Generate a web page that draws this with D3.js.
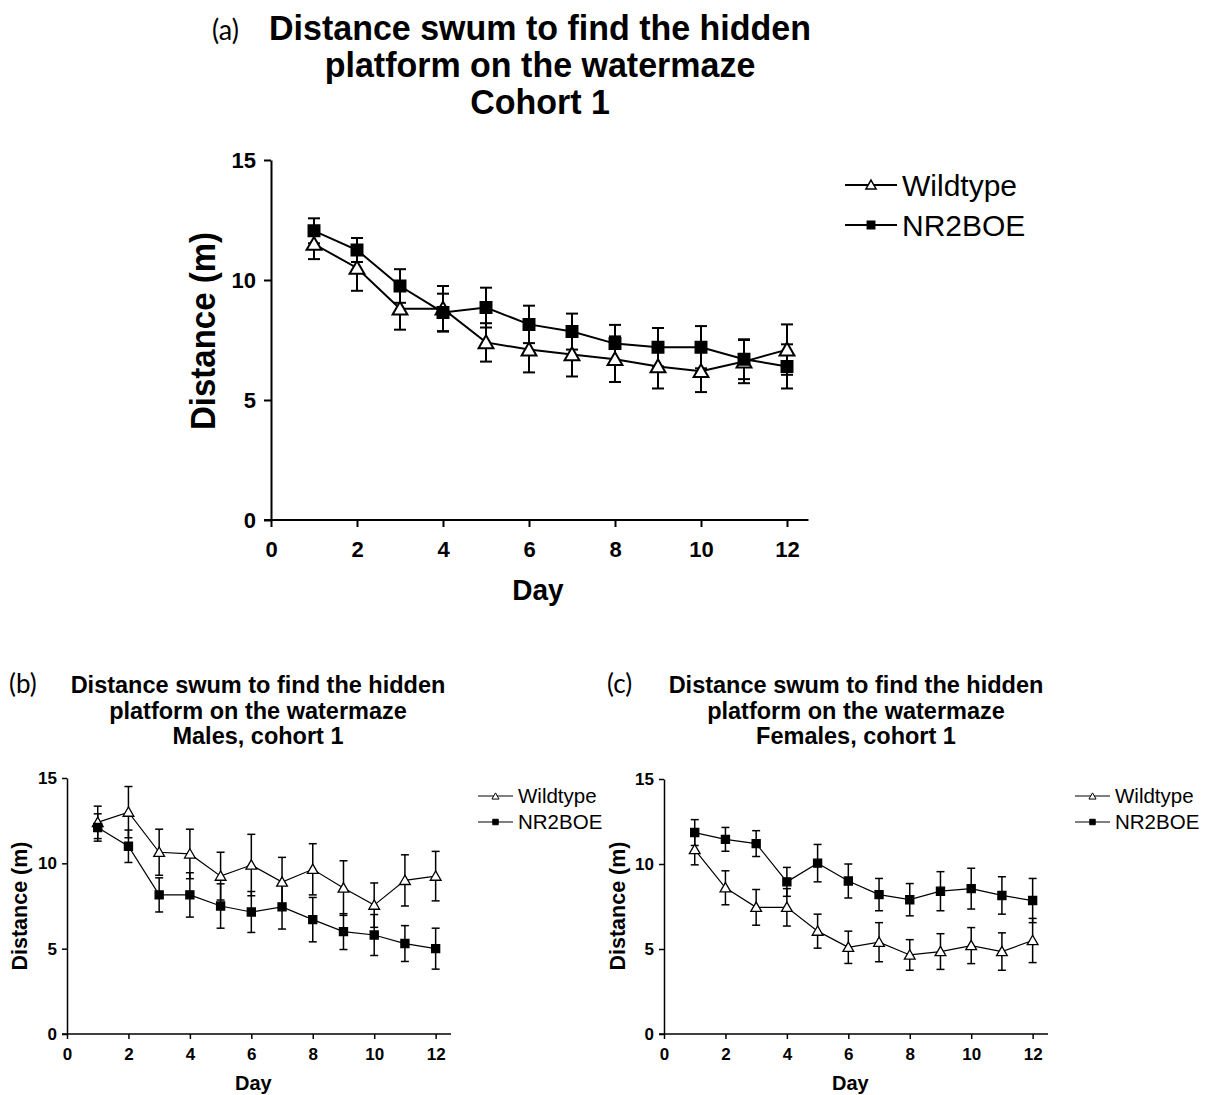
<!DOCTYPE html>
<html><head><meta charset="utf-8">
<script src="https://cdn.jsdelivr.net/npm/d3@7"></script>
<style>body{margin:0;background:#fff}svg{display:block}
svg text{font-family:"Liberation Sans", Arimo, Arial, Helvetica, sans-serif}
svg text.tag{font-family:Lato, "Open Sans", sans-serif}</style>
</head><body>
<script>
const days = [1,2,3,4,5,6,7,8,9,10,11,12];
const xTicks = [0,2,4,6,8,10,12];
const yTicks = [0,5,10,15];
const seriesNames = ["Wildtype","NR2BOE"];

const aWildtype = [11.5,10.5,8.8,8.8,7.4,7.1,6.9,6.7,6.4,6.2,6.6,7.1];
const aWildtypeSem = [0.63,0.95,0.87,0.95,0.8,0.95,0.92,0.95,0.92,0.87,0.9,1.05];
const aNR2BOE = [12.05,11.25,9.75,8.65,8.85,8.15,7.85,7.35,7.2,7.2,6.7,6.4];
const aNR2BOESem = [0.52,0.5,0.7,0.78,0.83,0.78,0.75,0.78,0.8,0.88,0.83,0.92];

const bWildtype = [12.4,13.0,10.65,10.55,9.25,9.9,8.9,9.65,8.55,7.55,9.0,9.25];
const bWildtypeSem = [0.95,1.5,1.35,1.45,1.4,1.8,1.45,1.5,1.6,1.3,1.5,1.45];
const bNR2BOE = [12.1,11.0,8.15,8.15,7.5,7.15,7.45,6.7,6.0,5.8,5.3,5.0];
const bNR2BOESem = [0.8,0.95,1.0,1.3,1.3,1.2,1.3,1.3,1.05,1.2,1.05,1.2];

const cWildtype = [10.85,8.6,7.45,7.45,6.05,5.1,5.4,4.65,4.85,5.2,4.85,5.5];
const cWildtypeSem = [0.9,1.0,1.05,1.1,1.0,0.95,1.15,0.9,1.05,1.06,1.1,1.3];
const cNR2BOE = [11.85,11.45,11.2,8.95,10.05,9.0,8.2,7.9,8.4,8.55,8.15,7.85];
const cNR2BOESem = [0.76,0.7,0.76,0.85,1.1,1.0,0.95,0.95,1.15,1.2,1.1,1.3];

const titleA = ["Distance swum to find the hidden","platform on the watermaze","Cohort 1"];
const titleB = ["Distance swum to find the hidden","platform on the watermaze","Males, cohort 1"];
const titleC = ["Distance swum to find the hidden","platform on the watermaze","Females, cohort 1"];

const svg = d3.select("body").append("svg").attr("width",1207).attr("height",1095);

function panel(o){
  const g = svg.append("g");
  const x = d3.scaleLinear().domain([0,12.5]).range([o.left, o.left+o.w]);
  const y = d3.scaleLinear().domain([0,15]).range([o.bottom, o.top]);
  const sy = o.stretch;

  g.append("text").attr("class","tag").attr("transform",`translate(${o.tagX},${o.titleY}) scale(1,${sy})`)
    .attr("font-size",o.tagSize).text(o.tag);
  o.title.forEach((t,i)=>g.append("text")
    .attr("transform",`translate(${o.titleCx},${o.titleY+i*o.titleLh}) scale(1,${sy})`)
    .attr("text-anchor","middle").attr("font-weight","bold").attr("font-size",o.titleSize).text(t));

  const xa = g.append("g").attr("transform",`translate(0,${o.bottom})`)
    .call(d3.axisBottom(x).tickValues(xTicks).tickSize(o.tick).tickSizeOuter(0).tickPadding(o.xpad));
  const ya = g.append("g").attr("transform",`translate(${o.left},0)`)
    .call(d3.axisLeft(y).tickValues(yTicks).tickSize(o.tick).tickSizeOuter(0).tickPadding(o.ypad));
  [xa,ya].forEach(a=>{
    a.attr("font-family",null);
    a.selectAll("path,line").attr("stroke","#000").attr("stroke-width",o.axW);
    a.selectAll("text").attr("font-size",o.tickSize).attr("font-weight","bold").attr("fill","#000");
  });
  xa.select(".domain").attr("d",`M${o.left-o.tick},0H${o.left+o.w}`);

  g.append("text").attr("transform",`translate(${x(6)+o.xlabDx},${o.xlabY}) scale(1,${sy})`).attr("text-anchor","middle")
    .attr("font-weight","bold").attr("font-size",o.xlabSize).text("Day");
  g.append("text").attr("transform",`translate(${o.ylabX},${o.ylabCy}) rotate(-90) scale(1,${sy})`)
    .attr("text-anchor","middle").attr("font-weight","bold").attr("font-size",o.ylabSize).text("Distance (m)");

  const series = [
    {name:seriesNames[0], v:o.wt, e:o.wtSem, sym:d3.symbolTriangle, fill:"#fff", size:o.triSize},
    {name:seriesNames[1], v:o.nr, e:o.nrSem, sym:d3.symbolSquare, fill:"#000", size:o.sqSize}
  ];
  const line = d3.line().x((d,i)=>x(days[i])).y(d=>y(d));
  series.forEach(s=>{
    g.append("path").datum(s.v).attr("d",line).attr("fill","none").attr("stroke","#000").attr("stroke-width",o.lw);
  });
  series.forEach(s=>{
    const eb = g.append("g").attr("stroke","#000").attr("stroke-width",o.ew);
    s.v.forEach((v,i)=>{
      const cx = x(days[i]);
      eb.append("line").attr("x1",cx).attr("x2",cx).attr("y1",y(v-s.e[i])).attr("y2",y(v+s.e[i]));
      [v-s.e[i], v+s.e[i]].forEach(w=>eb.append("line").attr("x1",cx-o.cap).attr("x2",cx+o.cap)
        .attr("y1",y(w)).attr("y2",y(w)));
    });
  });
  series.forEach(s=>{
    g.append("g").selectAll("path").data(s.v).join("path")
      .attr("transform",(d,i)=>`translate(${x(days[i])},${y(d)+(s.sym===d3.symbolTriangle?o.triOff:0)})`)
      .attr("d",d3.symbol().type(s.sym).size(s.size))
      .attr("fill",s.fill).attr("stroke","#000").attr("stroke-width",o.mw);
  });

  series.forEach((s,i)=>{
    const ly = o.legY + i*o.legDy;
    g.append("line").attr("x1",o.legX).attr("x2",o.legX+o.legW).attr("y1",ly).attr("y2",ly)
      .attr("stroke","#000").attr("stroke-width",o.legLw);
    g.append("path").attr("transform",`translate(${o.legX+o.legW/2},${ly+(i===0?o.legTriOff:0)})`)
      .attr("d",d3.symbol().type(s.sym).size(i===0?o.legTri:o.legSq))
      .attr("fill",s.fill).attr("stroke","#000").attr("stroke-width",o.legMw);
    g.append("text").attr("x",o.legX+o.legW+5).attr("y",ly).attr("dy","0.36em")
      .attr("font-size",o.legSize).text(s.name);
  });
}

panel({tag:"(a)", tagX:212, tagSize:27, title:titleA, titleCx:540, titleY:40, titleLh:37, titleSize:34, stretch:1.04,
  left:271, w:537.5, top:160, bottom:520, tick:7, xpad:14, ypad:8, axW:2, tickSize:22,
  xlabSize:28, ylabSize:33, xlabY:600, xlabDx:9, ylabX:215, ylabCy:331,
  wt:aWildtype, wtSem:aWildtypeSem, nr:aNR2BOE, nrSem:aNR2BOESem,
  lw:2, ew:2, cap:6, mw:2, triSize:95, sqSize:120, triOff:1.5,
  legX:845, legW:52, legY:185, legDy:40, legLw:2, legTri:45, legSq:55, legTriOff:1, legMw:1.5, legSize:30});

panel({tag:"(b)", tagX:9, tagSize:26, title:titleB, titleCx:258, titleY:693, titleLh:25.5, titleSize:23.5, stretch:1,
  left:67, w:384, top:778, bottom:1034, tick:5, xpad:9, ypad:5, axW:1.5, tickSize:17,
  xlabSize:20, ylabSize:21.5, xlabY:1090, xlabDx:2, ylabX:27, ylabCy:906,
  wt:bWildtype, wtSem:bWildtypeSem, nr:bNR2BOE, nrSem:bNR2BOESem,
  lw:1.2, ew:1.5, cap:4, mw:1.3, triSize:50, sqSize:65, triOff:1,
  legX:478, legW:35, legY:796, legDy:26, legLw:1.2, legTri:22, legSq:30, legTriOff:1, legMw:1, legSize:20.5});

panel({tag:"(c)", tagX:607, tagSize:26, title:titleC, titleCx:856, titleY:693, titleLh:25.5, titleSize:23.5, stretch:1,
  left:664, w:384, top:779, bottom:1034, tick:5, xpad:9, ypad:5, axW:1.5, tickSize:17,
  xlabSize:20, ylabSize:21.5, xlabY:1090, xlabDx:2, ylabX:625, ylabCy:906,
  wt:cWildtype, wtSem:cWildtypeSem, nr:cNR2BOE, nrSem:cNR2BOESem,
  lw:1.2, ew:1.5, cap:4, mw:1.3, triSize:50, sqSize:65, triOff:1,
  legX:1075, legW:35, legY:796, legDy:26, legLw:1.2, legTri:22, legSq:30, legTriOff:1, legMw:1, legSize:20.5});
</script>
</body></html>
